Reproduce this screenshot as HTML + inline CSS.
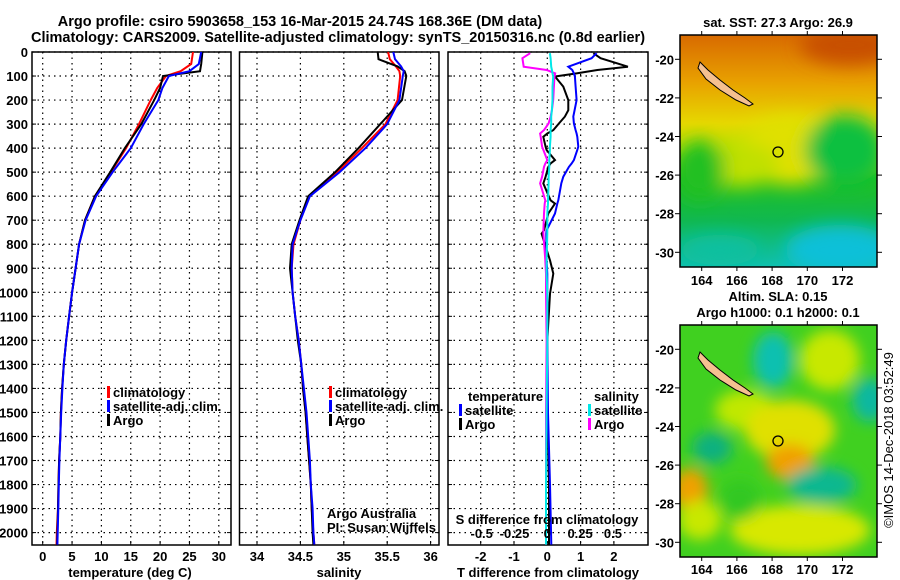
<!DOCTYPE html>
<html><head><meta charset="utf-8">
<style>
html,body{margin:0;padding:0;background:#fff;}
svg{display:block;font-family:"Liberation Sans",sans-serif;}
.b{font-weight:bold;font-size:13px;}
.t{font-weight:bold;font-size:14.5px;}
</style></head>
<body>
<svg id="chart" width="900" height="580" viewBox="0 0 900 580" xmlns="http://www.w3.org/2000/svg">
<defs>
<filter id="blur1" x="-20%" y="-20%" width="140%" height="140%"><feGaussianBlur stdDeviation="9"/></filter>
<filter id="blur2" x="-20%" y="-20%" width="140%" height="140%"><feGaussianBlur stdDeviation="7"/></filter>
<linearGradient id="sstGrad" x1="0" y1="0" x2="0" y2="1">
<stop offset="0" stop-color="#d86a00"/><stop offset="0.2" stop-color="#e8a000"/><stop offset="0.38" stop-color="#e6d800"/><stop offset="0.5" stop-color="#b8e000"/><stop offset="0.62" stop-color="#20c020"/><stop offset="0.8" stop-color="#10b850"/><stop offset="1" stop-color="#10c0b0"/>
</linearGradient>
<clipPath id="m1clip"><rect x="680" y="35" width="197" height="232"/></clipPath>
<clipPath id="m2clip"><rect x="680" y="325" width="197" height="232"/></clipPath>
</defs>
<g>
<text class="t" x="300" y="26" text-anchor="middle">Argo profile: csiro 5903658_153 16-Mar-2015 24.74S 168.36E (DM data)</text>
<text class="t" x="338" y="42" text-anchor="middle">Climatology: CARS2009. Satellite-adjusted climatology: synTS_20150316.nc (0.8d earlier)</text>
</g>
<g id="panels"></g>

<!-- Map 1 -->
<g>
<text class="b" x="778" y="27" text-anchor="middle">sat. SST: 27.3 Argo: 26.9</text>
<g clip-path="url(#m1clip)">
<rect x="680" y="35" width="197" height="232" fill="url(#sstGrad)"/>
<g filter="url(#blur1)">
<ellipse cx="850" cy="45" rx="50" ry="20" fill="#c85000"/>
<ellipse cx="790" cy="150" rx="50" ry="35" fill="#e0e000"/>
<ellipse cx="740" cy="165" rx="40" ry="22" fill="#c0e000"/>
<ellipse cx="845" cy="150" rx="40" ry="35" fill="#10c040"/>
<ellipse cx="700" cy="170" rx="25" ry="30" fill="#20c020"/>
<ellipse cx="840" cy="250" rx="55" ry="25" fill="#10c0d8"/>
<ellipse cx="720" cy="250" rx="40" ry="15" fill="#10c0a0"/>
</g>
<polygon points="700,62 708,70 720,80 733,90 745,98 753,104 749,106 736,100 720,90 706,79 698,68" fill="#f5c090" stroke="#000" stroke-width="1"/>
</g>
<circle cx="778" cy="152" r="5" fill="none" stroke="#000" stroke-width="1.3"/>
<rect x="680" y="35" width="197" height="232" fill="none" stroke="#000" stroke-width="1.5"/>
<g id="map1axes"></g>
</g>

<!-- Map 2 -->
<g>
<text class="b" x="778" y="301" text-anchor="middle">Altim. SLA: 0.15</text>
<text class="b" x="778" y="317" text-anchor="middle">Argo h1000: 0.1 h2000: 0.1</text>
<g clip-path="url(#m2clip)">
<rect x="680" y="325" width="197" height="232" fill="#40d020"/>
<g filter="url(#blur2)">
<ellipse cx="745" cy="410" rx="30" ry="20" fill="#c0e800"/>
<ellipse cx="830" cy="360" rx="30" ry="30" fill="#c8e800"/>
<ellipse cx="790" cy="430" rx="45" ry="30" fill="#e0e000"/>
<ellipse cx="790" cy="462" rx="24" ry="18" fill="#f0a000"/>
<ellipse cx="690" cy="490" rx="18" ry="22" fill="#f0a000"/>
<ellipse cx="800" cy="530" rx="70" ry="25" fill="#d8e800"/>
<ellipse cx="700" cy="520" rx="22" ry="20" fill="#c8e800"/>
<ellipse cx="773" cy="360" rx="20" ry="28" fill="#10c0b0"/>
<ellipse cx="712" cy="448" rx="20" ry="16" fill="#10b080"/>
<ellipse cx="822" cy="485" rx="35" ry="18" fill="#10b890"/>
<ellipse cx="870" cy="400" rx="18" ry="22" fill="#10b8a0"/>
<ellipse cx="740" cy="500" rx="20" ry="20" fill="#30c820"/>
</g>
<polygon points="700,352 708,360 720,370 733,380 745,388 753,394 749,396 736,390 720,380 706,369 698,358" fill="#f5c090" stroke="#000" stroke-width="1"/>
</g>
<circle cx="778" cy="441" r="5" fill="none" stroke="#000" stroke-width="1.3"/>
<rect x="680" y="325" width="197" height="232" fill="none" stroke="#000" stroke-width="1.5"/>
<g id="map2axes"></g>
</g>
<text x="893" y="440" font-size="13" text-anchor="middle" transform="rotate(-90 893 440)">©IMOS 14-Dec-2018 03:52:49</text>
</svg>
<script>
// ---- Data ----
const depthT = [0,50,80,100,150,200,300,400,500,600,700,800,900,1000,1100,1200,1300,1400,1500,1600,1700,1800,1900,2000,2050];
const tempArgo = [27.2,27.0,26.8,20.5,20.0,19.0,16.8,14.0,11.5,8.9,7.2,6.2,5.6,5.0,4.5,4.0,3.6,3.3,3.1,3.0,2.8,2.7,2.6,2.5,2.45];
const tempClim = [25.6,25.3,23.5,21.0,19.5,18.4,16.4,14.2,11.6,8.9,7.2,6.2,5.6,5.0,4.5,4.0,3.6,3.3,3.1,3.0,2.8,2.7,2.6,2.4,2.35];
const tempSat  = [27.0,26.6,25.0,21.5,20.4,19.7,17.2,15.0,11.9,9.1,7.3,6.2,5.6,5.0,4.5,4.0,3.6,3.35,3.15,3.0,2.85,2.75,2.65,2.55,2.5];
const depthS = [0,30,60,80,100,200,300,400,500,600,700,800,900,1000,1100,1200,1300,1400,1500,1600,1700,1800,1900,2000,2050];
const salArgo = [35.39,35.40,35.62,35.70,35.72,35.67,35.42,35.17,34.90,34.59,34.49,34.40,34.38,34.41,34.44,34.47,34.51,34.53,34.56,34.58,34.60,34.62,34.63,34.64,34.65];
const salClim = [35.51,35.53,35.60,35.64,35.65,35.62,35.48,35.21,34.92,34.60,34.50,34.42,34.40,34.41,34.44,34.48,34.51,34.53,34.56,34.58,34.60,34.62,34.63,34.65,34.66];
const salSat  = [35.57,35.59,35.66,35.69,35.68,35.64,35.50,35.25,34.95,34.61,34.50,34.41,34.40,34.41,34.44,34.48,34.51,34.54,34.57,34.59,34.61,34.62,34.64,34.65,34.66];
const depthD = [5,26,61,75,89,102,144,200,242,269,297,325,339,353,394,408,450,464,478,519,547,617,631,672,742,756,867,922,1006,1200,1500,1800,2050];
const dTArgo = [1.38,1.6,2.42,1.5,0.88,0.23,0.48,0.63,0.63,0.53,0.35,0.18,0.0,-0.12,-0.05,-0.02,0.23,0.1,0.03,-0.05,-0.12,0.1,0.23,0.03,-0.1,-0.17,0.08,0.18,0.08,0.0,0.0,0.05,0.05];
const dTSat  = [1.48,1.33,0.63,0.75,0.8,0.83,0.85,0.88,0.82,0.78,0.8,0.85,0.88,0.9,0.93,0.9,0.8,0.73,0.65,0.48,0.42,0.33,0.3,0.23,-0.02,-0.03,-0.02,0.0,0.0,0.0,0.02,0.08,0.12];
const dSArgo = [-0.13,-0.19,-0.18,-0.005,0.06,0.055,0.05,0.045,0.035,0.025,0.01,-0.025,-0.055,-0.05,-0.04,-0.03,0.0,-0.015,-0.025,-0.04,-0.055,-0.015,-0.02,-0.025,-0.03,-0.03,-0.015,-0.01,-0.01,-0.005,-0.01,-0.01,-0.01];
const dSSat  = [0.02,0.025,0.03,0.035,0.04,0.045,0.04,0.04,0.035,0.03,0.03,0.025,0.025,0.025,0.02,0.02,0.015,0.015,0.015,0.01,0.01,0.005,0.005,0.0,0.0,0.0,-0.005,-0.005,0.0,0.0,-0.005,-0.01,-0.01];
const depthTicks = [0,100,200,300,400,500,600,700,800,900,1000,1100,1200,1300,1400,1500,1600,1700,1800,1900,2000];
const tempTicks = [0,5,10,15,20,25,30];
const salTicks = [34,34.5,35,35.5,36];
const tdTicks = [-2,-1,0,1,2];
const sdTicks = [-0.5,-0.25,0,0.25,0.5];
const lonTicks = [164,166,168,170,172];
const latTicks = [-20,-22,-24,-26,-28,-30];

const NS = 'http://www.w3.org/2000/svg';
const root = document.getElementById('panels');
function mk(tag, attrs, parent){const e=document.createElementNS(NS,tag);for(const k in attrs)e.setAttribute(k,attrs[k]);(parent||root).appendChild(e);return e;}
function txt(s,x,y,anchor,cls,parent){const e=mk('text',{x:x,y:y,'text-anchor':anchor||'middle',class:cls||'b'},parent);e.textContent=s;return e;}

const TOP=52, BOT=545;
const yD = d => 52 + d*0.2403;
const xT = v => 42.7 + v*5.87;
const xS = v => 257 + (v-34)*86.8;
const xTD = v => 547.3 + v*33.3;
const xSD = v => 547.3 + v*131.2;

function panel(x0,x1,name,xs,grid){
  const g=mk('g',{});
  
  
  depthTicks.forEach(d=>{ mk('line',{x1:x0,x2:x1,y1:yD(d),y2:yD(d),stroke:'#000','stroke-dasharray':'1.5,4','stroke-width':1.2},g);
    mk('line',{x1:x0,x2:x0+4,y1:yD(d),y2:yD(d),stroke:'#000'},g); mk('line',{x1:x1-4,x2:x1,y1:yD(d),y2:yD(d),stroke:'#000'},g);});
  grid.forEach(v=>{ mk('line',{x1:xs(v),x2:xs(v),y1:TOP,y2:BOT,stroke:'#000','stroke-dasharray':'1.5,4','stroke-width':1.2},g);
    mk('line',{x1:xs(v),x2:xs(v),y1:BOT-4,y2:BOT,stroke:'#000'},g);});
  mk('rect',{x:x0,y:TOP,width:x1-x0,height:BOT-TOP,fill:'none',stroke:'#000','stroke-width':1.5},g);
  return g;
}
function line(g,xs,vals,deps,color,name,w){
  const pts=vals.map((v,i)=>xs(v).toFixed(1)+','+yD(deps[i]).toFixed(1)).join(' ');
  const p=mk('polyline',{points:pts,fill:'none',stroke:color,'stroke-width':w||2},g);
  
  
}
function legendItem(g,x,y,color,label){
  mk('rect',{x:x,y:y-11,width:3,height:12,fill:color},g);
  txt(label,x+6,y,'start','b',g);
}

const dl=mk('g',{});


depthTicks.forEach(d=>txt(String(d),28,yD(d)+5,'end','b',dl));

const p1=panel(32,231,'temperature-panel',xT,tempTicks);
line(p1,xT,tempClim,depthT,'#ff0000','temp-climatology-line');
line(p1,xT,tempArgo,depthT,'#000000','temp-argo-line');
line(p1,xT,tempSat,depthT,'#0000ff','temp-satellite-line');
tempTicks.forEach(v=>txt(String(v),xT(v),561,'middle','b',p1));
txt('temperature (deg C)',130,577,'middle','b',p1);
legendItem(p1,107,397,'#ff0000','climatology');
legendItem(p1,107,411,'#0000ff','satellite-adj. clim.');
legendItem(p1,107,425,'#000000','Argo');

const p2=panel(239.5,439,'salinity-panel',xS,salTicks);
line(p2,xS,salClim,depthS,'#ff0000','sal-climatology-line');
line(p2,xS,salArgo,depthS,'#000000','sal-argo-line');
line(p2,xS,salSat,depthS,'#0000ff','sal-satellite-line');
salTicks.forEach(v=>txt(String(v),xS(v),561,'middle','b',p2));
txt('salinity',339,577,'middle','b',p2);
legendItem(p2,329,397,'#ff0000','climatology');
legendItem(p2,329,411,'#0000ff','satellite-adj. clim.');
legendItem(p2,329,425,'#000000','Argo');
const aa=txt('Argo Australia',327,518,'start','',p2); aa.setAttribute('font-size','12');
const pi=txt('PI: Susan Wijffels',327,532,'start','',p2); pi.setAttribute('font-size','12');

const p3=panel(448,648,'difference-panel',xTD,tdTicks);
line(p3,xTD,dTArgo,depthD,'#000000','tdiff-argo-line');
line(p3,xTD,dTSat,depthD,'#0000ff','tdiff-satellite-line');
line(p3,xSD,dSArgo,depthD,'#ff00ff','sdiff-argo-line');
line(p3,xSD,dSSat,depthD,'#00e8e8','sdiff-satellite-line');
tdTicks.forEach(v=>txt(String(v),xTD(v),561,'middle','b',p3));
txt('T difference from climatology',548,577,'middle','b',p3);
txt('S difference from climatology',547,524,'middle','b',p3);
sdTicks.forEach(v=>txt(String(v),xSD(v),538,'middle','b',p3));
txt('temperature',468,401,'start','b',p3);
legendItem(p3,459,415,'#0000ff','satellite');
legendItem(p3,459,429,'#000000','Argo');
txt('salinity',594,401,'start','b',p3);
legendItem(p3,588,415,'#00e8e8','satellite');
legendItem(p3,588,429,'#ff00ff','Argo');

function mapAxes(id,y0,y1,latY0,latStep,lblY){
  const g=document.getElementById(id);
  const xL=v=>701.7+(v-164)*17.6;
  lonTicks.forEach(v=>{mk('line',{x1:xL(v),x2:xL(v),y1:y0-4,y2:y0,stroke:'#000'},g);mk('line',{x1:xL(v),x2:xL(v),y1:y1,y2:y1+4,stroke:'#000'},g);txt(String(v),xL(v),lblY,'middle','b',g);});
  latTicks.forEach(v=>{const y=latY0+(-20-v)*latStep;mk('line',{x1:877,x2:882,y1:y,y2:y,stroke:'#000'},g);mk('line',{x1:675,x2:680,y1:y,y2:y,stroke:'#000'},g);txt(String(v),674,y+5,'end','b',g);});
}
mapAxes('map1axes',35,267,59.3,19.3,285);
mapAxes('map2axes',325,557,349.3,19.3,574);
</script>
</body></html>
